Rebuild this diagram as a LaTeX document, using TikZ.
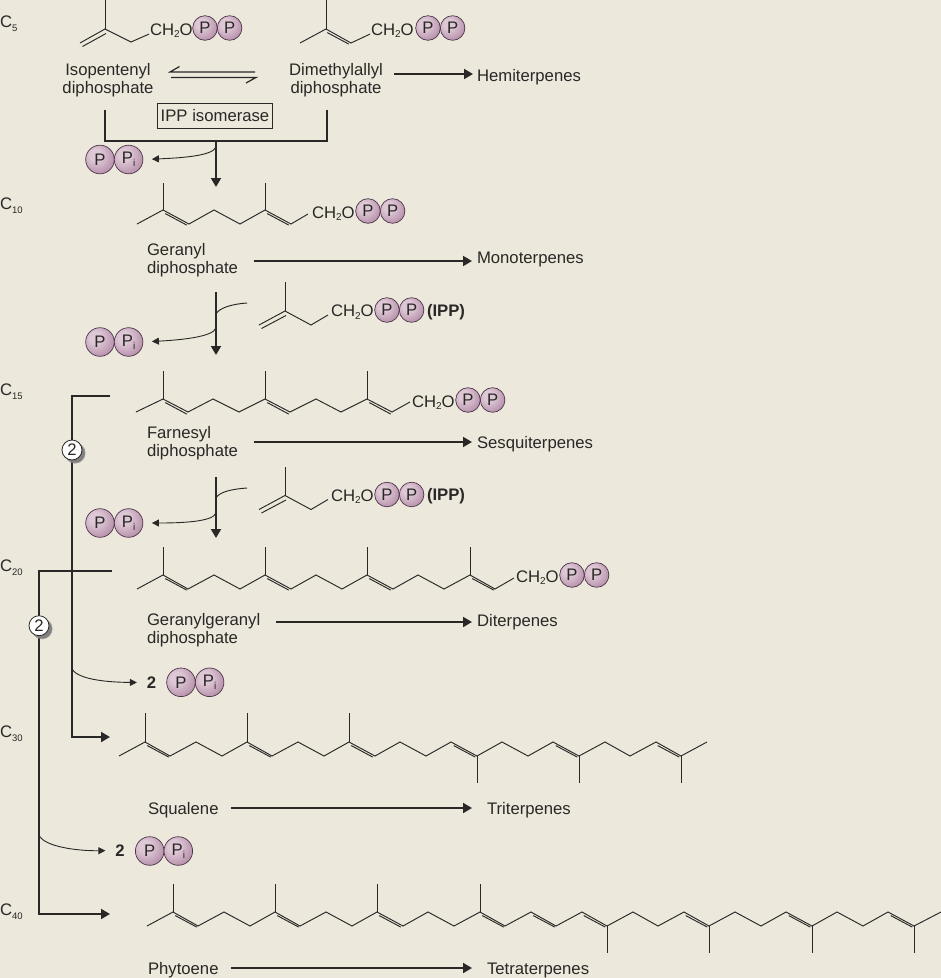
\documentclass[tikz,border=0pt]{standalone}
\usepackage{fontspec}
\setmainfont{Liberation Sans}
\usepackage{tikz}
\usetikzlibrary{arrows.meta,positioning,shadows}
\definecolor{paper}{HTML}{ECE8DC}
\definecolor{ink}{HTML}{2A2826}
\definecolor{ballrim}{HTML}{4E364A}
\definecolor{balla}{HTML}{DEC8D6}
\definecolor{ballb}{HTML}{B48DA8}
\definecolor{ballc}{HTML}{74506C}
\pgfdeclareradialshading{phosball}{\pgfpoint{-9bp}{9bp}}{%
  color(0bp)=(balla); color(10bp)=(balla);
  color(34bp)=(ballb); color(58bp)=(ballc);
  color(100bp)=(ballc)}
\newcommand{\lowtxt}[1]{\raisebox{-0.32ex}{\fontsize{10}{10}\selectfont #1}}
\newcommand{\carbons}[4]{%
  \node[anchor=base west,inner sep=0pt] (#1) at (0,#2) {C\raisebox{-0.55ex}{\fontsize{#4}{10}\selectfont #3}};}
\newcommand{\diphos}[3]{%
  \node[phos] (#1a) at (#2,#3) {P};
  \node[phos,right=0pt of #1a] (#1b) {P};}
\newcommand{\phosi}[3]{%
  \node[phosbig] (#1a) at (#2,#3) {P};
  \node[phosbig,right=0pt of #1a] (#1b) {P\lowtxt{i}};}
\newcommand{\dbl}[3]{% second stroke of a double bond
  \draw[bond] (#1,#2) ++(#3*1.7+0.6,3.6) -- ++(#3*21.5,#3*11.5);}

\begin{document}
\begin{tikzpicture}[x=1pt,y=-1pt,
  every node/.style={font=\fontsize{16.7}{18.5}\selectfont,text=ink,inner sep=1pt,outer sep=0pt},
  bond/.style={draw=ink,line width=0.95pt,line join=miter},
  rxn/.style={draw=ink,line width=1.9pt,-{Triangle[length=9pt,width=10pt]}},
  side/.style={draw=ink,line width=0.9pt,-{Triangle[length=7pt,width=7pt]}},
  frame/.style={draw=ink,line width=1.9pt},
  phos/.style={circle,draw=ballrim,line width=0.7pt,inner sep=0pt,minimum size=24.6pt,shading=phosball},
  phosbig/.style={phos,minimum size=28.6pt},
  count/.style={circle,draw=ink,fill=white,line width=0.8pt,inner sep=0pt,minimum size=20pt,
    circular drop shadow={shadow xshift=2.5pt,shadow yshift=-2.5pt,shadow scale=1.1}}]
\fill[paper] (0,0) rectangle (941,978);
\useasboundingbox (0,0) rectangle (941,978);

% carbon numbers
\carbons{c5}{27}{5}{9.5}
\carbons{c10}{209}{10}{9.5}
\carbons{c15}{395}{15}{9.5}
\carbons{c20}{571}{20}{9.5}
\carbons{c30}{737}{30}{9.5}
\carbons{c40}{915}{40}{9.5}

% C5 units
\node[anchor=base west] (chipp) at (149,35) {CH\lowtxt{2}O};
\diphos{ipp}{205}{28}
\draw[bond] (80,43) -- (105,29) -- (131,42) -- ([yshift=-3.5pt]chipp.west);
\draw[bond] (105,29) -- (105,0);
\draw[bond] (82.5,46.5) -- (106,33.5);
\node[anchor=base west] (chdma) at (370,35) {CH\lowtxt{2}O};
\diphos{dma}{428}{28}
\draw[bond] (300,43) -- (326,29) -- (351,43) -- ([yshift=-3.5pt]chdma.west);
\draw[bond] (326,29) -- (326,0);
\dbl{325}{29}{1}
\node[align=center,anchor=base] (isopentenyl) at (108,93.5) {Isopentenyl\\diphosphate};
\node[align=center,anchor=base] (dimethylallyl) at (336,93.5) {Dimethylallyl\\diphosphate};
\node[anchor=west] (hemi) at (476,77) {Hemiterpenes};
\coordinate (ha) at (394,74);
\coordinate (hb) at (473,74);
\draw[rxn] (ha) -- (hb);
\coordinate (eqa) at (255,72);
\coordinate (eqb) at (170,72);
\coordinate (eqc) at (171,77.5);
\coordinate (eqd) at (256,77.5);
\draw[bond,line width=1.2pt] (eqa) -- (eqb) -- ++(9.5,-5.5);
\draw[bond,line width=1.2pt] (eqc) -- (eqd) -- ++(-10,5.5);
\node[draw=ink,line width=0.8pt,minimum width=114.6pt,minimum height=24.6pt,inner sep=0pt] (isomerase) at (215,116) {IPP isomerase};
\coordinate (jl) at (105,110);
\coordinate (jr) at (327,110);
\coordinate (jm) at (216,141);
\coordinate (ga) at (216,187);
\draw[frame,line join=miter] (jl) -- (105,141) -- (327,141) -- (jr);
\draw[rxn] (jm) -- (ga);
\phosi{pi}{100}{159.5}
\draw[side,shorten >=9pt] (216,147) .. controls (213,156) and (180,158) .. (pib.east);

% geranyl
\draw[bond] (137,224) -- (163,210) -- (189,224) -- (214,210) -- (240,224) -- (265,210) -- (291,224) -- (308,214);
\foreach \x in {163,265} {
  \draw[bond] (\x,210) -- ++(0,-27);
  \dbl{\x}{210}{1}
}
\node[anchor=base west] (chg) at (311,218) {CH\lowtxt{2}O};
\diphos{ger}{368}{211}
\node[align=left,anchor=base west] (geranyl) at (146,273.5) {Geranyl\\diphosphate};
\node[anchor=west] (mono) at (476,259) {Monoterpenes};
\coordinate (ma) at (254,261);
\coordinate (mb) at (472,261);
\draw[rxn] (ma) -- (mb);
\coordinate (aa) at (216,292);
\coordinate (ab) at (216,355);
\draw[rxn] (aa) -- (ab);
\coordinate (ac) at (247,303);
\draw[bond] (ac) .. controls (232,304) and (219,308) .. (216,314);
\phosi{pj}{100}{342}
\draw[side,shorten >=9pt] (216,328) .. controls (213,337) and (180,340) .. (pjb.east);

% isopentenyl units added at each step
\foreach \y/\n in {310/a,494.5/b} {
  \draw[bond] (259,\y+15) -- (285,\y+1) -- (311,\y+15) -- (328,\y+5);
  \draw[bond] (285,\y+1) -- ++(0,-29);
  \draw[bond] (261.5,\y+18.5) -- (286,\y+5.5);
  \node[anchor=base west] (chi\n) at (330,\y+6.5) {CH\lowtxt{2}O};
  \diphos{ip\n}{387}{\y}
  \node[anchor=west,font=\fontsize{16.7}{18.5}\selectfont\bfseries] (tag\n) at (426,\y+2) {(IPP)};
}

% farnesyl
\draw[bond] (136,412) -- (163,399) -- (188,412) -- (213,399) -- (239,412) -- (265,399) -- (290,412) -- (316,399) -- (341,412) -- (367,399) -- (392,412) -- (410,402);
\foreach \x in {163,265,367} {
  \draw[bond] (\x,399) -- ++(0,-28);
  \dbl{\x}{399}{1}
}
\node[anchor=base west] (chf) at (411,407) {CH\lowtxt{2}O};
\diphos{far}{468}{400}
\node[align=left,anchor=base west] (farnesyl) at (146,456.5) {Farnesyl\\diphosphate};
\node[anchor=west] (sesq) at (476,444) {Sesquiterpenes};
\coordinate (sa) at (254,442);
\coordinate (sb) at (472,442);
\draw[rxn] (sa) -- (sb);
\coordinate (ba) at (216,477);
\coordinate (bb) at (216,538);
\draw[rxn] (ba) -- (bb);
\coordinate (bc) at (247,488);
\draw[bond] (bc) .. controls (232,489) and (219,492) .. (216,498);
\phosi{pk}{100}{523}
\draw[side,shorten >=9pt] (216,513) .. controls (213,522) and (180,523) .. (pkb.east);

% geranylgeranyl
\draw[bond] (137,589) -- (163,575) -- (188,589) -- (214,575) -- (240,589) -- (265,575) -- (291,589) -- (316,575) -- (342,589) -- (367,575) -- (393,589) -- (418,575) -- (444,589) -- (470,575) -- (495,589) -- (514,578);
\foreach \x in {163,265,367,470} {
  \draw[bond] (\x,575) -- ++(0,-28);
  \dbl{\x}{575}{1}
}
\node[anchor=base west] (chgg) at (515,582) {CH\lowtxt{2}O};
\diphos{gg}{572}{575}
\node[align=left,anchor=base west] (ggpp) at (146,643.5) {Geranylgeranyl\\diphosphate};
\node[anchor=west] (di) at (476,622) {Diterpenes};
\coordinate (da) at (276,622);
\coordinate (db) at (472,622);
\draw[rxn] (da) -- (db);

% head to head condensation
\coordinate (fa) at (110,396);
\coordinate (fb) at (110,737);
\draw[frame,-{Triangle[length=9pt,width=10pt]}] (fa) -- (72,396) -- (72,737) -- (fb);
\node[count] (twof) at (72,450) {2};
\coordinate (gga) at (112,571);
\coordinate (ggb) at (110,914);
\draw[frame,line width=1.5pt] (gga) -- (39,571) -- (39,600);
\draw[frame,-{Triangle[length=9pt,width=10pt]}] (39,600) -- (39,914) -- (ggb);
\node[count] (twog) at (39,625.7) {2};
\node[font=\fontsize{16.7}{18.5}\selectfont\bfseries] (numa) at (151.5,682.5) {2};
\phosi{pl}{181}{682.3}
\draw[side,shorten >=9pt] (72.7,670) .. controls (80,680) and (110,682.3) .. (numa.west);
\node[font=\fontsize{16.7}{18.5}\selectfont\bfseries] (numb) at (120,850.5) {2};
\phosi{pm}{149.7}{851}
\draw[side,shorten >=9pt] (40,836.7) .. controls (47,847) and (78,851) .. (numb.west);

% squalene
\draw[bond] (119,756) -- (145,742) -- (170,756) -- (196,742) -- (222,756) -- (247,742) -- (272,756) -- (298,742) -- (324,756) -- (349,742) -- (375,756) -- (400,742) -- (426,756) -- (451,742) -- (477,756) -- (502,742) -- (528,756) -- (553,742) -- (579,756) -- (605,742) -- (630,756) -- (656,742) -- (681,756) -- (707,742);
\foreach \x in {145,247,349} {
  \draw[bond] (\x,742) -- ++(0,-29);
  \dbl{\x}{742}{1}
}
\foreach \x in {477,579,681} {
  \draw[bond] (\x,756) -- ++(0,27);
  \dbl{\x-25.5}{742}{1}
}
\node[anchor=west] (squalene) at (147,810) {Squalene};
\node[anchor=west] (tri) at (486,810) {Triterpenes};
\coordinate (qa) at (231,808);
\coordinate (qb) at (472,808);
\draw[rxn] (qa) -- (qb);

% phytoene
\draw[bond] (147,926) -- (173,912) -- (198,926) -- (224,912) -- (250,926) -- (275,912) -- (300,926) -- (326,912) -- (352,926) -- (377,912) -- (403,926) -- (428,912) -- (454,926) -- (480,912) -- (505,926) -- (531,912) -- (556,926) -- (582,912) -- (607,926) -- (633,912) -- (658,926) -- (684,912) -- (709,926) -- (735,912) -- (761,926) -- (786,912) -- (812,926) -- (837,912) -- (863,926) -- (888,912) -- (914,926) -- (941,912);
\foreach \x in {173,275,377,480} {
  \draw[bond] (\x,912) -- ++(0,-28);
  \dbl{\x}{912}{1}
}
\foreach \x in {607,709,812,914} {
  \draw[bond] (\x,926) -- ++(0,27);
  \dbl{\x-25.5}{912}{1}
}
\dbl{531}{912}{1}
\node[anchor=west] (phytoene) at (147,970) {Phytoene};
\node[anchor=west] (tetra) at (486,970) {Tetraterpenes};
\coordinate (ta) at (231,968);
\coordinate (tb) at (472,968);
\draw[rxn] (ta) -- (tb);
\end{tikzpicture}
\end{document}
